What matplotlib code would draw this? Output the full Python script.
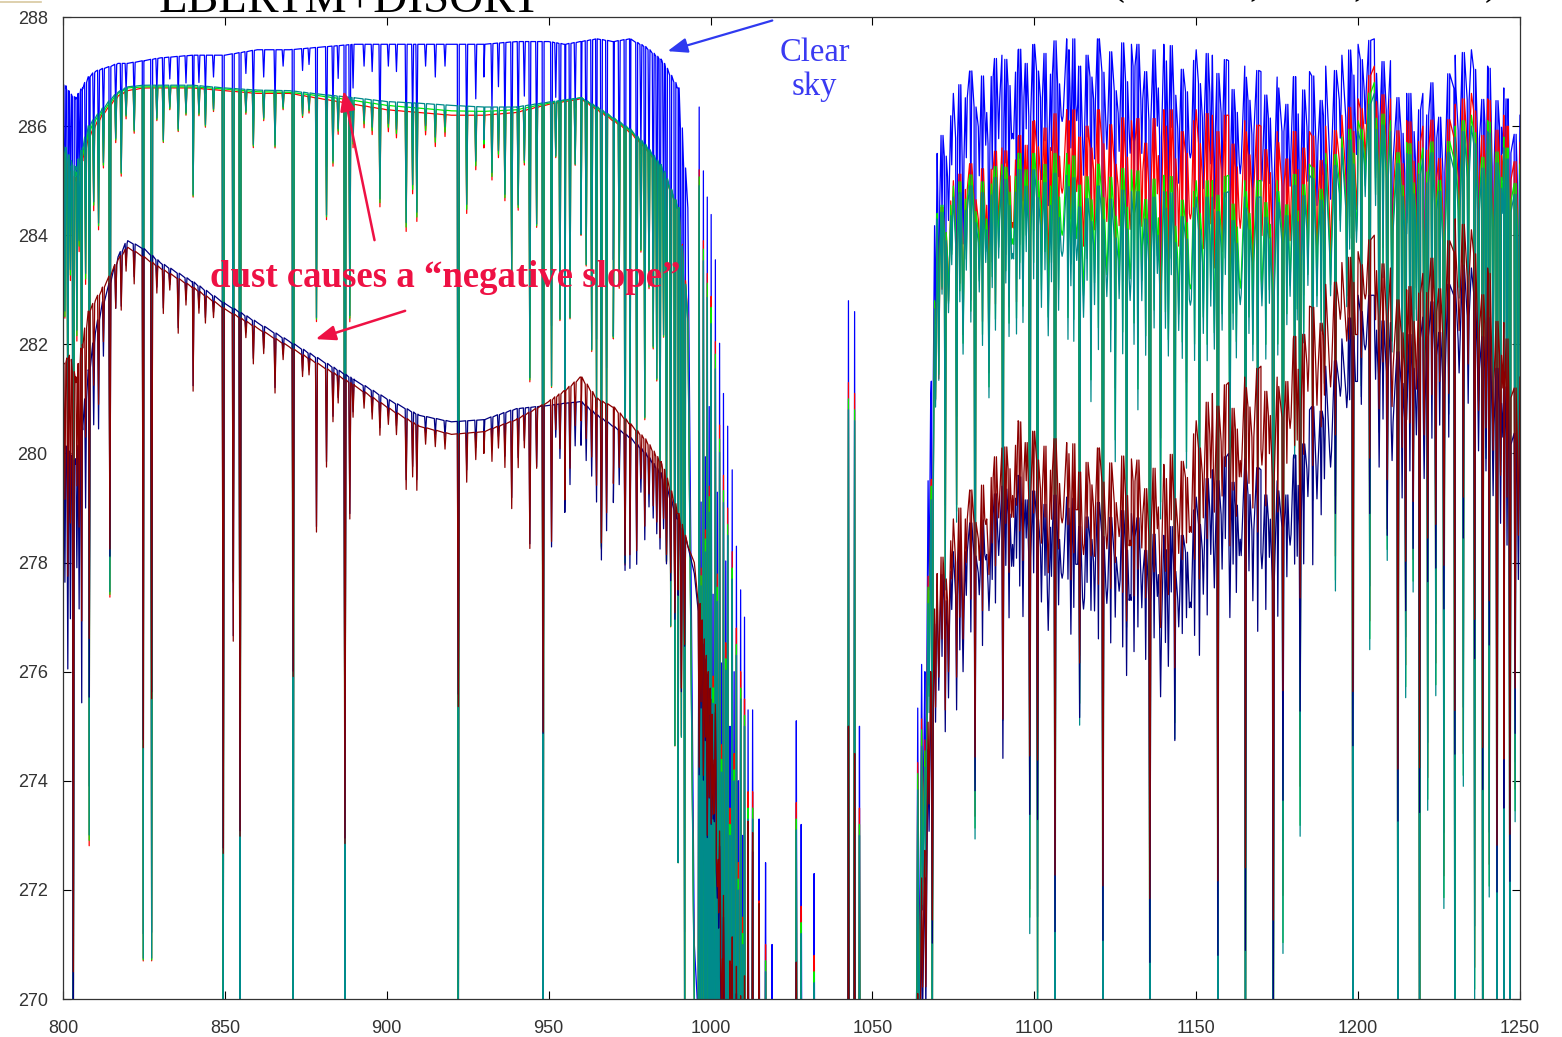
import numpy as np
import matplotlib
matplotlib.use('Agg')
import matplotlib.pyplot as plt
from matplotlib.lines import Line2D

# continuum knots (wavenumber, cm-1)
knots = [800, 802, 804, 806, 808, 810, 812, 815, 817, 820,
         825, 830, 840, 850, 860, 870, 880, 890, 900, 910,
         920, 930, 940, 950, 955, 960, 965, 970, 975, 980,
         985, 990, 993, 995, 1000, 1005, 1010, 1020, 1030, 1040,
         1050, 1060, 1063, 1066, 1068, 1070, 1075, 1080, 1090, 1095,
         1100, 1110, 1120, 1130, 1140, 1150, 1155, 1160, 1165, 1170,
         1175, 1180, 1185, 1190, 1195, 1200, 1205, 1210, 1215, 1220,
         1230, 1235, 1240, 1245, 1250]

# brightness temperature continua (K)
clear_sky = [286.8, 286.6, 286.5, 286.7, 286.9, 287.0, 287.05, 287.1, 287.15, 287.15,
             287.2, 287.25, 287.3, 287.3, 287.4, 287.4, 287.45, 287.5, 287.5, 287.5,
             287.5, 287.5, 287.55, 287.55, 287.5, 287.55, 287.6, 287.55, 287.6, 287.45,
             287.2, 286.7, 284.5, 271.0, 266.5, 266.0, 266.0, 266.0, 266.0, 266.0,
             266.0, 266.0, 268.0, 275.0, 281.0, 285.5, 286.6, 287.0, 287.3, 287.4,
             287.5, 287.6, 287.6, 287.5, 287.5, 287.4, 287.3, 287.2, 287.1, 287.0,
             286.9, 286.9, 287.0, 287.1, 287.3, 287.5, 287.6, 287.2, 286.6, 286.6,
             287.3, 287.4, 287.1, 286.7, 286.2]
cloud_red = [285.6, 285.2, 285.0, 285.4, 285.8, 286.0, 286.2, 286.4, 286.55, 286.65,
             286.7, 286.7, 286.7, 286.65, 286.6, 286.6, 286.5, 286.4, 286.3, 286.25,
             286.2, 286.2, 286.25, 286.4, 286.45, 286.5, 286.3, 286.1, 285.9, 285.6,
             285.2, 284.5, 282.5, 270.0, 265.0, 264.5, 264.5, 264.5, 264.5, 264.5,
             264.5, 264.5, 267.0, 274.0, 279.0, 284.3, 285.0, 285.3, 285.6, 285.8,
             286.1, 286.3, 286.3, 286.1, 286.3, 286.3, 286.2, 286.2, 286.1, 286.0,
             285.9, 285.9, 285.9, 286.0, 286.2, 286.5, 287.1, 286.5, 286.1, 286.0,
             286.4, 286.6, 286.5, 286.2, 285.7]
cloud_green = [285.6, 285.3, 285.1, 285.5, 285.9, 286.1, 286.25, 286.45, 286.6, 286.7,
               286.72, 286.72, 286.72, 286.68, 286.63, 286.62, 286.55, 286.47, 286.38, 286.33,
               286.28, 286.27, 286.3, 286.42, 286.47, 286.52, 286.33, 286.13, 285.93, 285.63,
               285.22, 284.5, 282.4, 269.9, 264.8, 264.2, 264.2, 264.2, 264.2, 264.2,
               264.2, 264.2, 266.8, 273.8, 278.8, 284.4, 284.9, 285.1, 285.3, 285.5,
               285.5, 285.5, 285.3, 285.2, 285.1, 285.0, 285.0, 285.1, 285.0, 285.0,
               285.0, 285.1, 285.3, 285.5, 285.8, 286.1, 286.8, 286.1, 285.7, 285.6,
               286.0, 286.2, 286.1, 285.8, 285.3]
cloud_teal = [285.7, 285.4, 285.2, 285.6, 286.0, 286.15, 286.3, 286.5, 286.62, 286.72,
              286.75, 286.75, 286.75, 286.7, 286.66, 286.65, 286.58, 286.52, 286.45, 286.42,
              286.38, 286.35, 286.35, 286.44, 286.48, 286.52, 286.35, 286.15, 285.95, 285.65,
              285.25, 284.5, 282.4, 269.8, 264.5, 264.0, 264.0, 264.0, 264.0, 264.0,
              264.0, 264.0, 266.5, 273.5, 278.5, 284.3, 284.7, 284.9, 285.1, 285.2,
              285.2, 285.1, 284.9, 284.8, 284.8, 284.7, 284.7, 284.8, 284.7, 284.7,
              284.8, 284.9, 285.1, 285.3, 285.6, 285.9, 286.6, 285.9, 285.5, 285.4,
              285.8, 286.0, 285.9, 285.6, 285.1]
dust_navy = [280.2, 280.0, 279.8, 280.5, 281.5, 282.2, 282.7, 283.2, 283.6, 283.9,
             283.75, 283.5, 283.15, 282.75, 282.4, 282.05, 281.7, 281.35, 281.0, 280.7,
             280.58, 280.62, 280.82, 280.88, 280.92, 280.95, 280.7, 280.5, 280.3, 280.0,
             279.6, 278.8, 278.3, 277.8, 275.5, 268.0, 264.0, 263.0, 262.5, 262.5,
             262.5, 262.5, 264.0, 271.8, 275.5, 277.6, 278.2, 278.7, 279.4, 279.6,
             279.3, 279.2, 279.1, 278.9, 278.5, 279.2, 279.7, 280.0, 279.9, 279.7,
             279.5, 279.9, 280.8, 281.6, 282.1, 282.9, 282.9, 282.4, 282.1, 282.5,
             283.5, 283.4, 282.6, 281.5, 280.6]
dust_maroon = [281.6, 281.8, 281.3, 282.0, 282.6, 282.8, 283.0, 283.3, 283.55, 283.78,
               283.6, 283.4, 283.05, 282.65, 282.3, 281.95, 281.6, 281.25, 280.85, 280.5,
               280.35, 280.4, 280.62, 280.95, 281.15, 281.4, 281.0, 280.85, 280.55, 280.25,
               279.8, 278.9, 278.3, 278.0, 275.5, 268.5, 264.5, 263.0, 262.5, 262.5,
               262.5, 262.5, 264.5, 272.3, 276.0, 277.8, 278.8, 279.3, 280.1, 280.6,
               280.4, 280.2, 280.1, 279.9, 279.8, 280.6, 281.1, 281.3, 281.4, 281.6,
               281.4, 282.1, 282.7, 283.1, 283.5, 283.7, 284.0, 283.4, 283.0, 283.3,
               284.3, 284.1, 283.4, 282.4, 281.4]

# lines of the 800-1050 part: position, depth (K) in clear/cloud runs, depth in dust runs
# negative depth = window spike inside the ozone band
band_wn = [800.6, 801.5, 802.3, 803.2, 804.3, 805.0, 805.8, 807.0, 808.1, 809.5,
           811.0, 812.5, 814.5, 816.3, 818.0, 819.5, 822.0, 824.8, 827.4, 829.0,
           831.0, 833.0, 835.6, 838.0, 840.2, 842.0, 844.0, 846.5, 849.5, 852.6,
           854.7, 856.5, 858.8, 862.0, 865.5, 868.0, 871.1, 874.0, 876.0, 878.3,
           881.4, 883.4, 885.0, 887.1, 888.6, 889.6, 893.0, 895.5, 897.9, 900.5,
           903.0, 906.0, 908.0, 909.3, 912.0, 915.0, 918.0, 922.1, 924.7, 927.5,
           930.0, 932.5, 934.5, 936.5, 938.6, 940.6, 942.5, 944.2, 946.3, 948.3,
           950.9, 952.2, 953.5, 955.0, 956.6, 958.2, 960.0, 961.6, 963.3, 964.8,
           966.3, 967.9, 970.0, 971.8, 973.6, 975.1, 977.2, 978.5, 979.7, 981.0,
           982.3, 983.4, 984.4, 985.5, 986.4, 987.7, 989.0, 990.0, 991.0, 992.0,
           996.5, 997.1, 997.8, 998.4, 999.0, 999.6, 1000.2, 1000.8, 1001.5, 1002.1,
           1002.8, 1003.4, 1004.0, 1004.7, 1005.3, 1006.0, 1006.7, 1007.3, 1008.0, 1008.6,
           1009.3, 1009.9, 1010.5, 1011.6, 1013.0, 1015.0, 1017.0, 1019.0, 1026.5, 1028.0,
           1032.0, 1042.6, 1044.5, 1046.0]
band_depth = [3, 5, 2, 17, 3, 1.5, 6, 2.5, 13, 1.5,
              2, 1, 9, 0.8, 1.5, 0.5, 0.8, 16, 16, 0.6,
              1.0, 0.4, 0.8, 0.5, 2.0, 0.5, 0.7, 0.4, 18, 9,
              18, 0.4, 1.0, 0.5, 1.0, 0.3, 20, 0.4, 0.3, 4.1,
              2.2, 1.2, 0.6, 18, 4, 0.8, 0.4, 0.5, 1.8, 0.4,
              0.5, 2.2, 1.5, 2.0, 0.4, 0.6, 0.4, 19, 1.8, 1.0,
              0.6, 1.2, 0.8, 1.6, 3.0, 1.8, 1.0, 5.0, 2.2, 20,
              5.2, 1.0, 4.0, 6.0, 4.0, 1.2, 2.5, 3.0, 4.5, 5.5,
              8.0, 6.0, 4.0, 3.0, 8.0, 7.0, 6.0, 2.0, 5.0, 2.5,
              3.5, 4.0, 6.0, 3.0, 7.0, 8.0, 10.0, 12.0, 9.0, 14.0,
              -16.7, -10, -16.7, -12, -17.3, -14, -17.9, -11, -17.2, -13,
              -15.8, -10, -15, -12, -14.5, -9, -13.7, -10, -12.3, -8,
              -11.5, -7, -11, -9.3, -9.3, -7.3, -6.5, -5, -9.1, -7.2,
              -6.3, -16.8, -16.6, -9]
band_depth_dust = [2.5, 4, 3, 11, 2, 3, 5, 2, 6, 1.5,
                   2, 1, 5, 0.8, 1, 0.4, 0.6, 9, 8, 0.5,
                   0.8, 0.3, 1.0, 0.4, 1.9, 0.4, 0.5, 0.3, 10, 6,
                   9.5, 0.3, 0.7, 0.4, 1.0, 0.3, 6, 0.4, 0.3, 3.1,
                   1.8, 0.9, 0.5, 8.5, 2.5, 0.6, 0.3, 0.4, 0.6, 0.3,
                   0.4, 1.3, 1.0, 1.2, 0.3, 0.3, 0.3, 5, 0.9, 0.5,
                   0.4, 0.6, 0.4, 0.8, 1.6, 0.9, 0.6, 2.5, 1.1, 6,
                   2.6, 0.6, 1.0, 2.0, 1.5, 0.8, 0.8, 1.0, 1.2, 1.6,
                   2.6, 2.0, 1.4, 1.0, 2.5, 2.4, 2.2, 0.8, 1.6, 0.9,
                   1.0, 1.2, 1.4, 0.9, 1.4, 1.5, 2.0, 1.4, 3.0, 2.0,
                   3.0, 1.5, 2.5, 1.5, 3.0, 2.0, 2.0, 1.0, -2.0, 0.5,
                   -1.5, 1.0, -2.0, 0.5, -1.0, -3.0, -4.0, -2.0, -4.5, -3.0,
                   -5.0, -3.0, -6.0, -9.0, -9.0, -8.0, -6.0, -4.0, -8.0, -7.0,
                   -6.0, -12.5, -12.0, -6.0]

# lines of the 1064-1250 window: position, depths, and level of the line wings
# relative to the continuum (K)
win_wn = [1064.0, 1065.2, 1066.5, 1067.5, 1068.5, 1069.5, 1070.5, 1071.5, 1072.5, 1073.5,
          1074.5, 1076.0, 1077.0, 1078.0, 1079.0, 1080.4, 1081.7, 1083.0, 1084.0, 1085.0,
          1086.0, 1087.0, 1088.0, 1089.0, 1090.3, 1091.2, 1092.2, 1093.3, 1094.5, 1095.5,
          1096.5, 1097.5, 1098.6, 1099.8, 1101.0, 1102.2, 1103.3, 1104.3, 1105.3, 1106.4,
          1107.5, 1108.6, 1110.4, 1111.3, 1112.2, 1113.1, 1114.0, 1115.2, 1116.3, 1117.5,
          1118.6, 1119.8, 1121.2, 1122.4, 1123.6, 1125.0, 1126.2, 1127.3, 1128.5, 1129.6,
          1130.8, 1132.0, 1133.2, 1134.4, 1135.7, 1137.0, 1138.0, 1139.0, 1140.5, 1141.4,
          1142.3, 1143.4, 1144.6, 1145.7, 1147.0, 1148.2, 1149.5, 1151.0, 1152.2, 1153.4,
          1154.5, 1155.6, 1156.7, 1158.0, 1159.0, 1160.4, 1161.4, 1162.4, 1163.6, 1165.2,
          1166.3, 1167.5, 1169.0, 1170.3, 1171.5, 1172.6, 1173.8, 1175.2, 1176.8, 1178.0,
          1179.0, 1180.4, 1181.2, 1182.1, 1183.2, 1184.5, 1186.0, 1187.3, 1188.6, 1189.6,
          1191.5, 1193.0, 1194.5, 1196.5, 1197.4, 1198.4, 1199.5, 1201.0, 1202.2, 1203.6,
          1205.4, 1206.5, 1207.7, 1209.0, 1210.5, 1212.3, 1213.6, 1214.7, 1216.0, 1217.0,
          1218.0, 1219.0, 1220.4, 1221.5, 1222.8, 1224.0, 1225.2, 1226.5, 1228.0, 1229.9,
          1231.2, 1232.5, 1234.0, 1236.0, 1237.2, 1238.5, 1239.5, 1240.5, 1241.7, 1242.9,
          1244.0, 1245.0, 1246.0, 1246.9, 1248.5, 1249.5]
win_depth = [-5, -3, 4, 2, 12, 2, 3, 1.5, 7, 2,
             1.2, 6, 2, 3, 1.5, 2.5, 12, 2, 3, 1.5,
             4, 2, 2.8, 1.5, 10, 2, 3, 1.5, 3, 2,
             2.8, 1.5, 14, 2, 16, 2.5, 1.8, 3, 2, 20,
             2.5, 1.5, 3, 2, 3, 1.5, 10, 2.5, 1.8, 4,
             2.2, 3, 20, 2, 3, 5, 2, 3, 8, 2,
             2.8, 4, 2, 3, 20, 2.5, 1.5, 6, 2.5, 3,
             1.5, 10, 2.5, 3, 5, 2, 3, 7, 2.5, 3,
             2, 2.8, 18, 2.5, 1.5, 6, 2.5, 3, 2, 20,
             2.5, 3, 6, 2, 3, 2, 20, 3, 14, 2.5,
             2, 5, 2.5, 12, 3, 2, 6, 2.5, 3, 4,
             2.5, 8, 1.5, 3, 2, 20, 2, 5, 1.5, 10,
             2, 6, 3, 8, 4, 20, 5, 10, 4, 8,
             3, 20, 5, 12, 4, 10, 4, 14, 5, 20,
             3, 12, 4, 16, 5, 20, 6, 14, 5, 20,
             6, 18, 6, 20, 12, 6]
win_depth_dust = [-3, -2, 3, 1.5, 5, 2, 2, 1.5, 3, 2.5,
                  1, 3, 2, 2.5, 1.2, 2, 5, 1.5, 2.5, 1,
                  2, 1.5, 2, 1.2, 5, 1.5, 2.5, 1.2, 1.5, 2,
                  2.5, 1, 6, 1.5, 6, 2, 1.5, 2.5, 1.5, 8,
                  2, 1.5, 1.5, 2.5, 2, 1.2, 4, 2, 1.5, 2,
                  2, 2.5, 8, 1.8, 2.5, 2, 1.5, 2.5, 3, 1.5,
                  2.5, 2, 1.6, 2.5, 8, 2, 1.2, 3, 2, 2.5,
                  1.2, 4, 2, 2.2, 2, 1.8, 2.5, 3, 2, 2.5,
                  1.5, 2.2, 9, 2, 1.5, 3, 2, 2.5, 1.5, 9,
                  2, 2.5, 3, 1.8, 2.5, 1.5, 10, 2.5, 6, 2,
                  1.5, 2, 2, 5, 2.5, 1.5, 3, 2, 2.5, 2,
                  2, 3, 1, 1.5, 1.5, 8, 1.5, 2, 1, 4,
                  1.5, 3, 2, 4, 2.5, 9, 3, 5, 2.5, 4,
                  2, 9, 3, 5, 2.5, 5, 2.5, 6, 3, 9,
                  2, 5, 2.5, 7, 3, 9, 3, 6, 3, 10,
                  3, 8, 3, 9, 6, 3]
win_wing = [0, 0, -0.5, 0, -0.8, -0.2, -1.0, 0, -0.6, -1.2,
            -0.3, -0.9, 0, -1.4, -0.4, 0, -0.7, -1.1, -0.2, -0.9,
            -1.5, -0.3, 0, -0.8, -1.2, -0.1, -0.6, -1.6, -0.4, 0,
            -0.9, -0.3, -1.3, 0, -0.5, -1.0, -0.2, -1.7, -0.6, 0,
            -0.8, -1.4, -0.2, -0.9, 0, -1.2, -0.5, -1.8, -0.3, -0.7,
            -1.1, 0, -0.6, -1.5, -0.2, -0.9, -1.3, 0, -0.7, -1.6,
            -0.4, 0, -1.0, -0.5, -1.4, -0.1, -0.8, -1.7, -0.3, -1.1,
            0, -0.9, -1.5, -0.4, -0.8, -1.9, -0.2, -0.6, -1.2, 0,
            -0.7, -1.4, -0.3, -1.0, 0, -1.6, -0.5, -0.9, -1.8, -0.2,
            -0.6, -1.2, 0, -1.5, -0.4, -0.8, -1.9, -0.2, -1.0, -0.5,
            -1.3, 0, -0.7, -1.6, -0.3, -1.0, -0.1, -1.4, -0.6, -0.9,
            -1.7, -0.2, -0.8, -1.2, 0, -0.5, -1.5, -0.3, -0.9, 0,
            -0.6, -1.3, -0.2, -1.0, -1.8, -0.4, -0.9, -1.5, 0, -0.7,
            -1.2, -0.3, -1.6, -0.5, 0, -1.1, -0.8, -1.9, -0.2, -0.6,
            -1.4, 0, -0.9, -0.3, -1.5, -0.7, -1.1, 0, -1.7, -0.4,
            -0.8, -1.2, -0.1, -1.0, -0.5, -1.3]

HALF = 0.3  # half width of one line (cm-1)


def spectrum(cont, tables):
    xs, ys = [np.asarray(knots, float)], [np.asarray(cont, float)]
    for wn, depth, wing in tables:
        wn = np.asarray(wn, float)
        c = np.interp(wn, knots, cont)
        w = c + (np.asarray(wing, float) if wing is not None else 0.0)
        xs += [wn - HALF, wn, wn + HALF]
        ys += [w, c - np.asarray(depth, float), w]
    x = np.concatenate(xs)
    y = np.concatenate(ys)
    o = np.argsort(x, kind='stable')
    return x[o], y[o]


fig = plt.figure(figsize=(15.62, 10.37), dpi=100)
ax = fig.add_axes([0.0403, 0.0366, 0.9328, 0.9470])

runs = [(clear_sky, band_depth, win_depth, '#0000ff'),
        (cloud_red, band_depth, win_depth, '#ff0000'),
        (cloud_green, band_depth, win_depth, '#00ee00'),
        (cloud_teal, band_depth, win_depth, '#008b8b'),
        (dust_navy, band_depth_dust, win_depth_dust, '#000080'),
        (dust_maroon, band_depth_dust, win_depth_dust, '#8b0000')]
for cont, d_band, d_win, col in runs:
    x, y = spectrum(cont, [(band_wn, d_band, None), (win_wn, d_win, win_wing)])
    ax.plot(x, y, color=col, lw=0.9)

ax.set_xlim(800, 1250)
ax.set_ylim(270, 288)
ax.set_xticks(np.arange(800, 1251, 50))
ax.set_yticks(np.arange(270, 289, 2))
ax.tick_params(direction='in', top=True, right=True, length=6, width=0.8,
               labelsize=13, labelcolor='#333333')
ax.tick_params(axis='x', pad=15)
ax.tick_params(axis='y', pad=11)
for lab in ax.get_xticklabels() + ax.get_yticklabels():
    lab.set_family('Liberation Sans')
for s in ax.spines.values():
    s.set_color('#333333')
    s.set_linewidth(0.9)

serif = 'Liberation Serif'
# slide titles, cut off by the top edge
fig.text(0.224, 0.9884, 'LBLRTM+DISORT', family=serif, fontsize=34, ha='center', va='baseline')
for fx, ch in [(0.715, '('), (0.803, ','), (0.870, ','), (0.955, ')')]:
    fig.text(fx, 1.006, ch, family=serif, fontsize=30, ha='center', va='baseline')
fig.add_artist(Line2D([0, 0.026], [0.998, 0.998], color='#d8c8a0', lw=1.2))

blue_txt = '#3a3af2'
ax.text(1032.2, 287.03, 'Clear\nsky', color=blue_txt, family=serif, fontsize=23.5,
        ha='center', va='center', linespacing=1.15)
ax.annotate('', xy=(985.9, 287.36), xytext=(1019.9, 287.95), annotation_clip=False,
            arrowprops=dict(arrowstyle='-|>,head_length=1.2,head_width=0.45',
                            color='#2f3af0', lw=1.6))

red_txt = '#ee1144'
ax.text(918, 283.22, 'dust causes a \u201cnegative slope\u201d', color=red_txt, family=serif,
        fontsize=26.5, fontweight='bold', ha='center', va='center')
ax.annotate('', xy=(886.5, 286.7), xytext=(896.4, 283.86),
            arrowprops=dict(arrowstyle='-|>,head_length=1.2,head_width=0.45',
                            color=red_txt, lw=1.8))
ax.annotate('', xy=(877.2, 282.08), xytext=(906.5, 282.63),
            arrowprops=dict(arrowstyle='-|>,head_length=1.2,head_width=0.45',
                            color=red_txt, lw=1.8))

fig.savefig('out.png', dpi=100)
